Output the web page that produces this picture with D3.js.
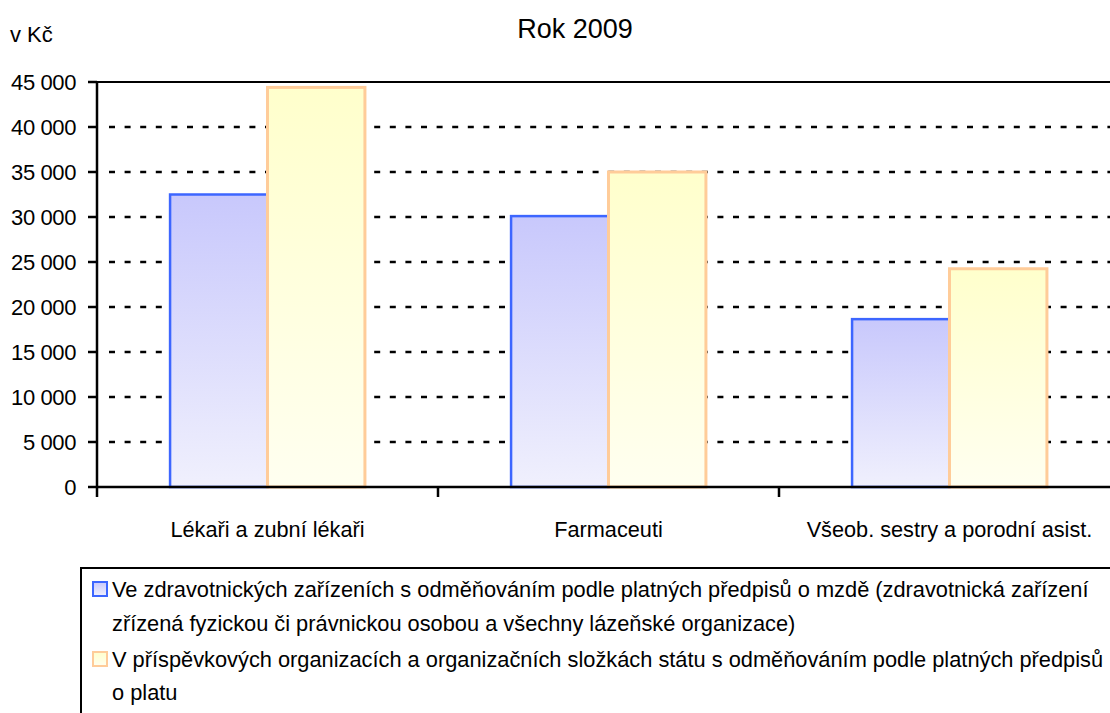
<!DOCTYPE html>
<html lang="cs">
<head>
  <meta charset="UTF-8">
  <title>Rok 2009</title>
  <script src="https://d3js.org/d3.v7.min.js"></script>
  <style>
    body {
      margin: 0;
      background: white;
      font-family: "Liberation Sans", Arial, sans-serif;
    }
    text {
      fill: #000;
    }
  </style>
</head>
<body>
  <div id="chart"></div>

  <script>
    // data
    const categories = ["Lékaři a zubní lékaři", "Farmaceuti", "Všeob. sestry a porodní asist."];
    const seriesNames = ["mzda", "plat"];
    const mzdaValues = [32500, 30100, 18650];
    const platValues = [44400, 35000, 24250];
    const yTicks = [0, 5000, 10000, 15000, 20000, 25000, 30000, 35000, 40000, 45000];
    const legendLines = [
      ["Ve zdravotnických zařízeních s odměňováním podle platných předpisů o mzdě (zdravotnická zařízení",
       "zřízená fyzickou či právnickou osobou a všechny lázeňské organizace)"],
      ["V příspěvkových organizacích a organizačních složkách státu s odměňováním podle platných předpisů",
       "o platu"]
    ];

    const width = 1110, height = 713;
    const margin = { left: 97, top: 82, plotRight: 1120, bottom: 487 };

    const svg = d3.select("#chart").append("svg")
      .attr("width", width)
      .attr("height", height);

    const defs = svg.append("defs");
    const gradBlue = defs.append("linearGradient").attr("id", "gBlue")
      .attr("x1", 0).attr("y1", 0).attr("x2", 0).attr("y2", 1);
    gradBlue.append("stop").attr("offset", "0%").attr("stop-color", "#c8c8fc");
    gradBlue.append("stop").attr("offset", "100%").attr("stop-color", "#f0f0fd");
    const gradYellow = defs.append("linearGradient").attr("id", "gYellow")
      .attr("x1", 0).attr("y1", 0).attr("x2", 0).attr("y2", 1);
    gradYellow.append("stop").attr("offset", "0%").attr("stop-color", "#ffffcc");
    gradYellow.append("stop").attr("offset", "100%").attr("stop-color", "#fffff0");

    const x0 = d3.scaleBand().domain(categories).range([margin.left, margin.plotRight]).padding(0);
    const x1 = d3.scaleBand().domain(seriesNames).range([0, x0.bandwidth()]).paddingInner(0).paddingOuter(0.75);
    const y = d3.scaleLinear().domain([0, 45000]).range([margin.bottom, margin.top]);

    const fmt = v => d3.format(",")(v).replace(/,/g, " ");

    // title and unit
    svg.append("text").attr("x", 575).attr("y", 38)
      .attr("text-anchor", "middle").style("font-size", "27px").text("Rok 2009");
    svg.append("text").attr("x", 10).attr("y", 42)
      .style("font-size", "22px").text("v Kč");

    // gridlines
    svg.append("g").selectAll("line")
      .data(yTicks.filter(d => d > 0 && d < 45000))
      .join("line")
      .attr("x1", margin.left + 12).attr("x2", width)
      .attr("y1", d => y(d)).attr("y2", d => y(d))
      .attr("stroke", "#000").attr("stroke-width", 2.5)
      .attr("stroke-dasharray", "6,9.6");
    svg.append("line")
      .attr("x1", margin.left).attr("x2", width)
      .attr("y1", y(45000)).attr("y2", y(45000))
      .attr("stroke", "#000").attr("stroke-width", 2);

    // bars
    const groups = svg.append("g").selectAll("g")
      .data(categories)
      .join("g")
      .attr("transform", d => `translate(${x0(d)},0)`);

    groups.append("rect")
      .attr("x", x1("mzda"))
      .attr("y", (d, i) => y(mzdaValues[i]))
      .attr("width", x1.bandwidth())
      .attr("height", (d, i) => y(0) - y(mzdaValues[i]))
      .attr("fill", "url(#gBlue)")
      .attr("stroke", "#3d66ff").attr("stroke-width", 2.5);

    groups.append("rect")
      .attr("x", x1("plat"))
      .attr("y", (d, i) => y(platValues[i]))
      .attr("width", x1.bandwidth())
      .attr("height", (d, i) => y(0) - y(platValues[i]))
      .attr("fill", "url(#gYellow)")
      .attr("stroke", "#ffcc99").attr("stroke-width", 3);

    // y axis
    const yAxis = svg.append("g");
    yAxis.append("line")
      .attr("x1", margin.left).attr("x2", margin.left)
      .attr("y1", y(45000)).attr("y2", y(0) + 10)
      .attr("stroke", "#000").attr("stroke-width", 2.5);
    yAxis.selectAll(".tick")
      .data(yTicks)
      .join("line")
      .attr("x1", margin.left - 9).attr("x2", margin.left)
      .attr("y1", d => y(d)).attr("y2", d => y(d))
      .attr("stroke", "#000").attr("stroke-width", 2.5);
    yAxis.selectAll("text")
      .data(yTicks)
      .join("text")
      .attr("x", 76).attr("y", d => y(d) + 8)
      .attr("text-anchor", "end")
      .style("font-size", "22px")
      .style("letter-spacing", "-0.4px")
      .text(fmt);

    // x axis
    svg.append("line")
      .attr("x1", margin.left).attr("x2", width)
      .attr("y1", y(0)).attr("y2", y(0))
      .attr("stroke", "#000").attr("stroke-width", 2.5);
    svg.append("g").selectAll("line")
      .data(categories.slice(1))
      .join("line")
      .attr("x1", d => x0(d)).attr("x2", d => x0(d))
      .attr("y1", y(0)).attr("y2", y(0) + 10)
      .attr("stroke", "#000").attr("stroke-width", 2.5);
    svg.append("g").selectAll("text")
      .data(categories)
      .join("text")
      .attr("x", d => x0(d) + x0.bandwidth() / 2)
      .attr("y", 537)
      .attr("text-anchor", "middle")
      .style("font-size", "21.7px")
      .text(d => d);

    // legend
    const legend = svg.append("g");
    legend.append("rect")
      .attr("x", 81).attr("y", 568)
      .attr("width", 1100).attr("height", 200)
      .attr("fill", "none").attr("stroke", "#000").attr("stroke-width", 2);

    const swatchFill = ["url(#gBlue)", "url(#gYellow)"];
    const swatchStroke = ["#3d66ff", "#ffcc99"];
    const baselines = [[597, 631], [667, 700]];

    legendLines.forEach((lines, i) => {
      legend.append("rect")
        .attr("x", 93).attr("y", baselines[i][0] - 15)
        .attr("width", 14).attr("height", 14)
        .attr("fill", swatchFill[i])
        .attr("stroke", swatchStroke[i]).attr("stroke-width", 2);
      lines.forEach((t, j) => {
        legend.append("text")
          .attr("x", 112).attr("y", baselines[i][j])
          .style("font-size", "21.8px")
          .text(t);
      });
    });
  </script>
</body>
</html>
